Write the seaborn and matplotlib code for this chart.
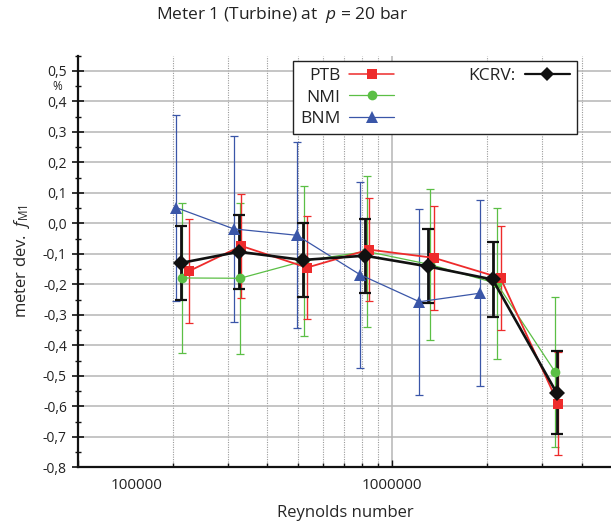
import numpy as np
import pandas as pd
import matplotlib
matplotlib.use('Agg')
import matplotlib.pyplot as plt
import matplotlib.ticker as mticker
from matplotlib.lines import Line2D
from matplotlib.transforms import ScaledTranslation
import seaborn as sns

# ─── Data ────────────────────────────────────────────────────────────────────
re_ptb = [2.26e5, 3.31e5, 5.35e5, 8.43e5, 1.357e6, 2.21e6, 3.37e6]
dev_ptb = [-0.156, -0.074, -0.145, -0.086, -0.113, -0.179, -0.591]
u_ptb = [0.17, 0.17, 0.17, 0.17, 0.17, 0.17, 0.17]

re_nmi = [2.15e5, 3.28e5, 5.25e5, 8.30e5, 1.318e6, 2.15e6, 3.30e6]
dev_nmi = [-0.179, -0.180, -0.123, -0.092, -0.135, -0.197, -0.488]
u_nmi = [0.247, 0.247, 0.247, 0.247, 0.247, 0.247, 0.247]

re_bnm = [2.05e5, 3.13e5, 4.97e5, 7.89e5, 1.22e6, 1.90e6]
dev_bnm = [0.052, -0.018, -0.039, -0.168, -0.257, -0.229]
u_bnm = [0.305, 0.305, 0.305, 0.305, 0.305, 0.305]

re_kcrv = [2.12e5, 3.25e5, 5.18e5, 8.18e5, 1.296e6, 2.085e6, 3.33e6]
dev_kcrv = [-0.130, -0.093, -0.120, -0.106, -0.141, -0.184, -0.555]
u_kcrv = [0.121, 0.121, 0.121, 0.121, 0.121, 0.122, 0.135]

c_ptb = '#EE2B2B'
c_nmi = '#5BBF45'
c_bnm = '#3A56A8'
c_kcrv = '#111111'

# ─── Style ───────────────────────────────────────────────────────────────────
sns.set_theme(style='white')
plt.rcParams['font.family'] = ['Open Sans', 'DejaVu Sans']
plt.rcParams['mathtext.fontset'] = 'custom'
plt.rcParams['mathtext.rm'] = 'Open Sans'
plt.rcParams['mathtext.it'] = 'Open Sans:italic'
plt.rcParams['text.color'] = '#222222'

fig = plt.figure(figsize=(6.11, 5.24), dpi=100)
ax = fig.add_axes([78 / 611, 1 - 467.3 / 524, 534 / 611, 411.6 / 524])

# grid first so the data sits on top
ax.set_xscale('log')
ax.set_xlim(1e5, 5e6)
ax.set_ylim(-0.8, 0.55)
ax.yaxis.set_major_locator(mticker.MultipleLocator(0.1))
ax.yaxis.set_minor_locator(mticker.MultipleLocator(0.05))
ax.xaxis.set_major_locator(mticker.FixedLocator([1e5, 1e6]))
ax.xaxis.set_minor_locator(mticker.LogLocator(base=10, subs=np.arange(2, 10)))
ax.xaxis.set_minor_formatter(mticker.NullFormatter())
ax.grid(axis='y', which='major', color='#b5b5b5', linewidth=1.1)
ax.grid(axis='x', which='major', color='#b5b5b5', linewidth=1.1)
ax.grid(axis='x', which='minor', color='#9a9a9a', linewidth=0.8, linestyle=(0, (1, 1.2)))
ax.set_axisbelow(True)

# ─── Error bars ──────────────────────────────────────────────────────────────
ax.errorbar(re_bnm, dev_bnm, yerr=u_bnm, fmt='none', ecolor=c_bnm, elinewidth=0.9,
            capsize=2.6, capthick=0.9, zorder=3)
ax.errorbar(re_nmi, dev_nmi, yerr=u_nmi, fmt='none', ecolor=c_nmi, elinewidth=0.9,
            capsize=2.6, capthick=0.9, zorder=3)
ax.errorbar(re_ptb, dev_ptb, yerr=u_ptb, fmt='none', ecolor=c_ptb, elinewidth=1.0,
            capsize=2.6, capthick=0.9, zorder=3)
ax.errorbar(re_kcrv, dev_kcrv, yerr=u_kcrv, fmt='none', ecolor=c_kcrv, elinewidth=2.0,
            capsize=4.2, capthick=1.6, zorder=4)

# ─── Lines + markers ─────────────────────────────────────────────────────────
df_bnm = pd.DataFrame({'re': re_bnm, 'dev': dev_bnm})
df_nmi = pd.DataFrame({'re': re_nmi, 'dev': dev_nmi})
df_ptb = pd.DataFrame({'re': re_ptb, 'dev': dev_ptb})
df_kcrv = pd.DataFrame({'re': re_kcrv, 'dev': dev_kcrv})

sns.lineplot(data=df_bnm, x='re', y='dev', ax=ax, sort=False, color=c_bnm, linewidth=0.9,
             marker='^', markersize=9, markeredgewidth=0, zorder=5)
sns.lineplot(data=df_nmi, x='re', y='dev', ax=ax, sort=False, color=c_nmi, linewidth=0.9,
             marker='o', markersize=7, markeredgewidth=0, zorder=5)
sns.lineplot(data=df_ptb, x='re', y='dev', ax=ax, sort=False, color=c_ptb, linewidth=1.3,
             marker='s', markersize=6.5, markeredgewidth=0, zorder=5)
sns.lineplot(data=df_kcrv, x='re', y='dev', ax=ax, sort=False, color=c_kcrv, linewidth=1.9,
             marker='D', markersize=8, markeredgewidth=0, zorder=6)

# ─── Axes cosmetics ──────────────────────────────────────────────────────────
ax.set_xlim(1e5, 5e6)
ax.set_ylim(-0.8, 0.55)
for side in ['top', 'right']:
    ax.spines[side].set_visible(False)
for side in ['left', 'bottom']:
    ax.spines[side].set_color('#111111')
    ax.spines[side].set_linewidth(1.6)

ax.yaxis.set_major_formatter(mticker.FuncFormatter(
    lambda v, p: f'{v:.1f}'.replace('.', ',').replace('−', '-')))
ax.xaxis.set_major_formatter(mticker.FuncFormatter(lambda v, p: f'{v:.0f}'))
ax.tick_params(axis='y', which='major', direction='inout', length=8, width=1.2,
               color='#111111', labelsize=10, labelcolor='#222222', pad=4, left=True)
ax.tick_params(axis='y', which='minor', direction='inout', length=5, width=1.0,
               color='#111111', left=True)
ax.tick_params(axis='x', which='major', direction='in', length=5, width=1.0,
               color='#111111', labelsize=11, labelcolor='#222222', pad=8, bottom=True)
ax.tick_params(axis='x', which='minor', direction='in', length=3, width=1.0,
               color='#111111', bottom=True)

# shift the 100000 label to the right like in the original
fig.canvas.draw()
lab0 = ax.get_xticklabels()[0]
lab0.set_ha('left')
lab0.set_transform(lab0.get_transform() + ScaledTranslation(0.33, 0, fig.dpi_scale_trans))

ax.set_xlabel('Reynolds number', fontsize=12, labelpad=8)
ax.set_ylabel(r'meter dev.  $f_{\mathrm{M1}}$', fontsize=12, labelpad=8)
fig.text(282 / 611, 1 - 15 / 524, r'Meter 1 (Turbine) at  $p$ = 20 bar',
         ha='center', va='center', fontsize=12.5)
fig.text(57 / 611, 1 - 86 / 524, '%', ha='center', va='center', fontsize=8.5)

# ─── Legend ──────────────────────────────────────────────────────────────────
h_ptb = Line2D([], [], color=c_ptb, linewidth=1.1, marker='s', markersize=7, markeredgewidth=0)
h_nmi = Line2D([], [], color=c_nmi, linewidth=0.9, marker='o', markersize=7, markeredgewidth=0)
h_bnm = Line2D([], [], color=c_bnm, linewidth=0.9, marker='^', markersize=8, markeredgewidth=0)
h_kcrv = Line2D([], [], color=c_kcrv, linewidth=1.6, marker='D', markersize=7, markeredgewidth=0)
blank = Line2D([], [], color='none')
leg = ax.legend([h_ptb, h_nmi, h_bnm, h_kcrv, blank, blank],
                ['PTB', 'NMI', 'BNM', 'KCRV:', '', ''],
                ncol=2, markerfirst=False, loc='upper right',
                bbox_to_anchor=(0.934, 0.987), borderaxespad=0, fontsize=12.5,
                handlelength=2.6, handletextpad=0.5, columnspacing=4.3,
                labelspacing=0.3, borderpad=0.4, fancybox=False, framealpha=1,
                edgecolor='#222222')
leg.get_frame().set_linewidth(1.0)
leg.set_zorder(10)

fig.savefig('out.png', dpi=100)
